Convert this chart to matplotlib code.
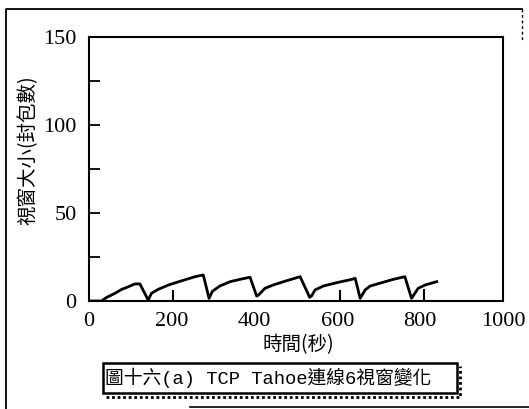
import matplotlib
matplotlib.use("Agg")
import matplotlib.pyplot as plt
from matplotlib.patches import Rectangle
from matplotlib.lines import Line2D

# window size of connection 6
t_sec = [0, 30, 43, 63, 79, 95, 111, 123, 143, 151, 167, 192, 224, 256, 276,
         290, 298, 316, 341, 365, 389, 405, 410, 425, 445, 477, 510, 533, 538,
         546, 566, 598, 635, 643, 655, 667, 679, 707, 735, 763, 779, 795, 812, 840]
cwnd = [0, 0, 2.1, 4.4, 6.6, 8.1, 9.7, 9.7, 0.5, 4.4, 6.6, 9.1, 11.5, 13.8, 14.8,
        1.5, 5.5, 8.5, 11.0, 12.3, 13.5, 2.8, 3.5, 7.2, 9.1, 11.5, 13.8, 2.1, 3.0,
        6.3, 8.5, 10.4, 12.3, 12.9, 1.5, 6.3, 8.5, 10.4, 12.3, 13.8, 1.5, 7.2, 9.1, 11.0]
# short spikes in the trace
spike_t = [204, 606, 808]
spike_h = [6.3, 6.3, 7.0]

xticks = [0, 200, 400, 600, 800, 1000]
yticks = [0, 50, 100, 150]
yminor = [25, 75, 125]

W, H = 529, 409
CJK = ['Noto Sans CJK TC', 'DejaVu Sans']
NUM = ['Liberation Serif']

fig = plt.figure(figsize=(W / 100, H / 100), dpi=100)
ax = fig.add_axes([89 / W, (H - 301) / H, (503 - 89) / W, (301 - 37) / H])

ax.plot(t_sec, cwnd, color='black', lw=2)
ax.vlines(spike_t, 0, spike_h, color='black', lw=1.5)

ax.set_xlim(0, 1000)
ax.set_ylim(0, 150)
ax.set_xticks(xticks)
ax.set_yticks(yticks)
ax.set_yticks(yminor, minor=True)
ax.tick_params(axis='x', length=0, pad=8)
ax.tick_params(axis='y', which='both', direction='in', length=8, width=1.3, pad=9)
for lab in ax.get_xticklabels() + ax.get_yticklabels():
    lab.set_family(NUM)
    lab.set_fontsize(16)
for s in ax.spines.values():
    s.set_linewidth(1.5)

def fx(px):
    return px / W

def fy(py):
    return 1 - py / H

fig.text(fx(28), fy(150), '視窗大小(封包數)', rotation=90, ha='center', va='center',
         family=CJK, fontsize=14)
fig.text(fx(298), fy(345), '時間(秒)', ha='center', va='center', family=CJK, fontsize=14)

# caption box with dotted shadow
fig.patches.append(Rectangle((fx(103), fy(393)), (457 - 103) / W, (393 - 363) / H,
                             transform=fig.transFigure, fill=False, ec='black', lw=1.8))
fig.lines.append(Line2D([fx(106), fx(460), fx(460)], [fy(397), fy(397), fy(366)],
                        transform=fig.transFigure, color='black', lw=2, ls=(0, (1, 1))))
fig.text(fx(105), fy(378), '圖十六(a) TCP Tahoe連線6視窗變化', ha='left', va='center',
         family=['Liberation Mono', 'Noto Sans CJK TC'], fontsize=13.5)

# outer frame of the scanned page
fig.lines.append(Line2D([fx(6), fx(6), fx(522)], [fy(409), fy(9), fy(9)],
                        transform=fig.transFigure, color='black', lw=1.3))
fig.lines.append(Line2D([fx(522), fx(522)], [fy(9), fy(40)],
                        transform=fig.transFigure, color='black', lw=1, ls=(0, (2, 2))))
fig.lines.append(Line2D([fx(190), fx(529)], [fy(407), fy(407)],
                        transform=fig.transFigure, color='black', lw=1.2))

fig.savefig('out.png', dpi=100)
